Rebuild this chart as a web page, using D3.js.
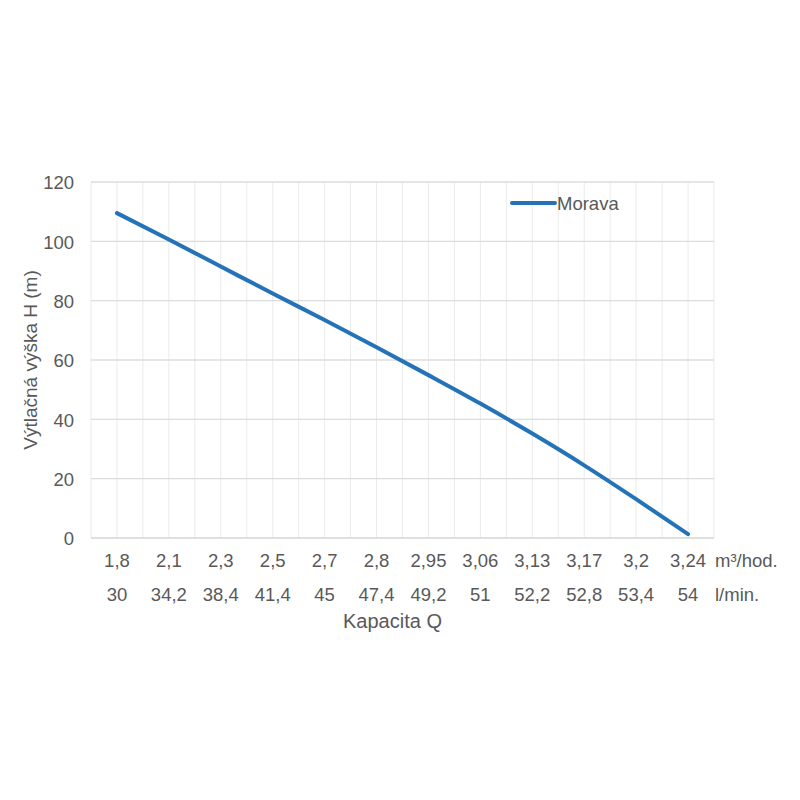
<!doctype html>
<html lang="cs">
<head>
	<meta charset="UTF-8">
	<title>Morava</title>
	<script src="https://cdn.jsdelivr.net/npm/d3@7"></script>
	<style>
		body { margin: 0; background: #fff; }
		text { font-family: "Liberation Sans", Arial, sans-serif; fill: #595959; }
	</style>
</head>
<body>
<div id="container"></div>
<script>
	// data
	var flow_m3 = ["1,8", "2,1", "2,3", "2,5", "2,7", "2,8", "2,95", "3,06", "3,13", "3,17", "3,2", "3,24"];
	var flow_lmin = ["30", "34,2", "38,4", "41,4", "45", "47,4", "49,2", "51", "52,2", "52,8", "53,4", "54"];
	var head = [109.5, 100.6, 91.5, 82.4, 73.5, 64.3, 54.9, 45.3, 35.2, 24.5, 13.1, 1.3];
	var y_ticks = [0, 20, 40, 60, 80, 100, 120];

	var width = 800, height = 800;
	var margin = { left: 91, top: 182, right: 86, bottom: 262 };
	var g_width = width - margin.left - margin.right;
	var g_height = height - margin.top - margin.bottom;
	var tick_font = "18.5px";

	var scale_x = d3.scaleBand()
			.domain(d3.range(flow_m3.length))
			.range([0, g_width])
			.padding(0);
	var scale_y = d3.scaleLinear()
			.domain([0, 120])
			.range([g_height, 0]);

	var svg = d3.select("#container")
			.append("svg")
			.attr("width", width)
			.attr("height", height);

	var g = svg.append("g")
			.attr("transform", "translate(" + margin.left + "," + margin.top + ")");

	// vertical grid: band edges and band centers
	var bw = scale_x.bandwidth();
	var v_lines = [];
	d3.range(flow_m3.length).forEach(function (i) {
		v_lines.push(scale_x(i));
		v_lines.push(scale_x(i) + bw / 2);
	});
	v_lines.push(g_width);

	g.append("g")
			.selectAll("line")
			.data(v_lines)
			.enter()
			.append("line")
			.attr("x1", function (d) { return d; })
			.attr("x2", function (d) { return d; })
			.attr("y1", 0)
			.attr("y2", g_height)
			.attr("stroke", "#ebebeb")
			.attr("stroke-width", 1);

	// horizontal grid
	g.append("g")
			.selectAll("line")
			.data(y_ticks)
			.enter()
			.append("line")
			.attr("x1", 0)
			.attr("x2", g_width)
			.attr("y1", function (d) { return scale_y(d); })
			.attr("y2", function (d) { return scale_y(d); })
			.attr("stroke", function (d) { return d === 0 ? "#d4d4d4" : "#dcdcdc"; })
			.attr("stroke-width", 1.3);

	// y axis labels
	var y_axis = d3.axisLeft(scale_y)
			.tickValues(y_ticks)
			.tickSize(0)
			.tickPadding(17);
	var ya = g.append("g").call(y_axis);
	ya.select(".domain").remove();
	ya.selectAll("text")
			.style("font-size", tick_font)
			.attr("dy", "0.36em");

	// x labels, two rows
	var rows = g.append("g").attr("transform", "translate(0," + g_height + ")");
	rows.selectAll(".m3")
			.data(flow_m3)
			.enter()
			.append("text")
			.attr("class", "m3")
			.attr("x", function (d, i) { return scale_x(i) + bw / 2; })
			.attr("y", 29)
			.attr("text-anchor", "middle")
			.style("font-size", tick_font)
			.text(function (d) { return d; });
	rows.append("text")
			.attr("x", g_width + 1)
			.attr("y", 29)
			.style("font-size", tick_font)
			.text("m³/hod.");

	rows.selectAll(".lmin")
			.data(flow_lmin)
			.enter()
			.append("text")
			.attr("class", "lmin")
			.attr("x", function (d, i) { return scale_x(i) + bw / 2; })
			.attr("y", 63)
			.attr("text-anchor", "middle")
			.style("font-size", tick_font)
			.text(function (d) { return d; });
	rows.append("text")
			.attr("x", g_width + 1)
			.attr("y", 63)
			.style("font-size", tick_font)
			.text("l/min.");

	// axis titles
	rows.append("text")
			.attr("x", g_width / 2 - 10)
			.attr("y", 90)
			.attr("text-anchor", "middle")
			.style("font-size", "20px")
			.text("Kapacita Q");

	g.append("text")
			.attr("transform", "translate(-54," + (g_height / 2) + ") rotate(-90)")
			.attr("text-anchor", "middle")
			.style("font-size", "19px")
			.text("Výtlačná výška H (m)");

	// curve
	var line_generator = d3.line()
			.x(function (d, i) { return scale_x(i) + bw / 2; })
			.y(function (d) { return scale_y(d); })
			.curve(d3.curveMonotoneX);

	g.append("path")
			.attr("d", line_generator(head))
			.attr("fill", "none")
			.attr("stroke", "#2472b7")
			.attr("stroke-width", 4)
			.attr("stroke-linecap", "round");

	// legend
	var legend = g.append("g").attr("transform", "translate(421,21)");
	legend.append("line")
			.attr("x1", 0)
			.attr("x2", 43)
			.attr("stroke", "#2472b7")
			.attr("stroke-width", 4)
			.attr("stroke-linecap", "round");
	legend.append("text")
			.attr("x", 45)
			.attr("dy", "0.36em")
			.style("font-size", "18.5px")
			.text("Morava");
</script>
</body>
</html>
